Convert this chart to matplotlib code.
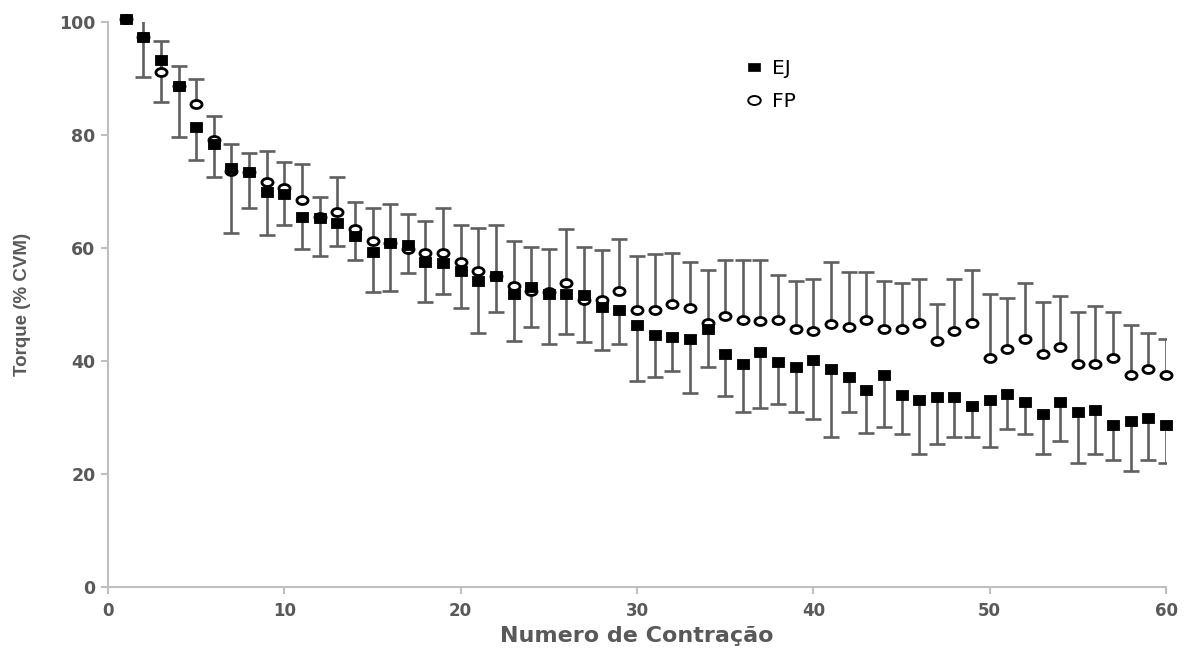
import numpy as np
import matplotlib
matplotlib.use("Agg")
import matplotlib.pyplot as plt
from matplotlib.path import Path
from matplotlib.transforms import Affine2D
from matplotlib.lines import Line2D

# ---------------- data ----------------
contraction = list(range(1, 61))

ej_mean = [100.6, 97.4, 93.3, 88.6, 81.4, 78.4, 74.2, 73.4, 69.9, 69.6,
           65.4, 65.3, 64.5, 62.1, 59.3, 60.8, 60.5, 57.6, 57.3, 55.9,
           54.2, 55.0, 51.9, 53.1, 51.9, 51.9, 51.6, 49.5, 49.0, 46.3,
           44.6, 44.3, 43.9, 45.7, 41.2, 39.5, 41.6, 39.9, 38.9, 40.2,
           38.5, 37.2, 34.8, 37.5, 34.0, 33.1, 33.7, 33.7, 32.0, 33.1,
           34.1, 32.7, 30.7, 32.7, 31.0, 31.3, 28.6, 29.3, 30.0, 28.6]
ej_sd = [0.0, 7.1, 7.5, 8.9, 5.8, 5.9, 11.5, 6.3, 7.6, 5.5,
         5.5, 6.7, 4.1, 4.2, 7.1, 8.4, 5.0, 7.2, 5.5, 6.5,
         9.2, 6.3, 8.3, 7.1, 8.9, 7.2, 8.3, 7.6, 6.0, 9.8,
         7.4, 6.1, 9.5, 6.8, 7.4, 8.5, 9.9, 7.5, 7.9, 10.5,
         11.9, 6.2, 7.5, 9.2, 7.0, 9.6, 8.4, 7.1, 5.4, 8.3,
         6.2, 5.7, 7.2, 6.8, 9.1, 7.8, 6.1, 8.8, 7.5, 6.7]

fp_mean = [100.6, 97.4, 91.2, 88.6, 85.4, 79.1, 73.6, 73.4, 71.6, 70.6,
           68.5, 65.5, 66.4, 63.4, 61.3, 60.9, 59.9, 59.2, 59.2, 57.5,
           55.9, 55.1, 53.2, 52.4, 52.2, 53.8, 50.8, 50.8, 52.4, 49.0,
           49.0, 50.1, 49.4, 46.8, 48.0, 47.3, 47.0, 47.3, 45.6, 45.3,
           46.6, 46.0, 47.3, 45.6, 45.6, 46.7, 43.6, 45.3, 46.7, 40.5,
           42.2, 43.9, 41.2, 42.5, 39.5, 39.5, 40.5, 37.5, 38.5, 37.5]
fp_sd = [0.0, 5.0, 5.5, 3.7, 4.5, 4.3, 4.8, 3.5, 5.6, 4.6,
         6.4, 3.6, 6.1, 4.7, 5.8, 6.9, 6.1, 5.5, 7.9, 6.5,
         7.7, 8.9, 8.1, 7.8, 7.7, 9.5, 9.4, 8.8, 9.2, 9.6,
         9.9, 9.1, 8.1, 9.3, 9.9, 10.6, 10.9, 7.9, 8.5, 9.2,
         10.9, 9.8, 8.5, 8.5, 8.2, 7.8, 6.5, 9.2, 9.4, 11.3,
         8.9, 9.9, 9.2, 9.0, 9.2, 10.2, 8.2, 8.8, 6.5, 6.4]

series_labels = ["EJ", "FP"]
x_ticks = [0, 10, 20, 30, 40, 50, 60]
y_ticks = [0, 20, 40, 60, 80, 100]
x_label = "Numero de Contração"
y_label = "Torque (% CVM)"

# ---------------- style ----------------
W, H, DPI = 1193, 653, 100
AX_L, AX_R, AX_T, AX_B = 108, 1166, 22, 587
GRAY_TXT = "#595959"
GRAY_BAR = "#5f5f5f"
GRAY_AX = "#bfbfbf"

# horizontally stretched markers (reference image is stretched)
rect = Path([(-0.5, -0.37), (0.5, -0.37), (0.5, 0.37), (-0.5, 0.37), (-0.5, -0.37)],
            [Path.MOVETO, Path.LINETO, Path.LINETO, Path.LINETO, Path.CLOSEPOLY])
ell = Path.unit_circle().transformed(Affine2D().scale(1.0, 0.72))

fig = plt.figure(figsize=(W / DPI, H / DPI), dpi=DPI)
ax = fig.add_axes([AX_L / W, 1 - AX_B / H, (AX_R - AX_L) / W, (AX_B - AX_T) / H])

x = np.array(contraction, dtype=float)
ej = np.array(ej_mean)
ejs = np.array(ej_sd)
fp = np.array(fp_mean)
fps = np.array(fp_sd)

bar_lw = 1.9
cap_ms = 11

# EJ: lower error bars ; FP: upper error bars
ax.vlines(x, ej - ejs, ej, color=GRAY_BAR, lw=bar_lw, zorder=2)
ax.plot(x[ejs > 0], (ej - ejs)[ejs > 0], ls="none", marker="_", ms=cap_ms,
        mew=bar_lw, color=GRAY_BAR, zorder=2)
ax.vlines(x, fp, fp + fps, color=GRAY_BAR, lw=bar_lw, zorder=2)
ax.plot(x[fps > 0], (fp + fps)[fps > 0], ls="none", marker="_", ms=cap_ms,
        mew=bar_lw, color=GRAY_BAR, zorder=2)

ax.plot(x, fp, ls="none", marker=ell, ms=8.0, mfc="white", mec="black",
        mew=2.0, zorder=3, clip_on=False)
ax.plot(x, ej, ls="none", marker=rect, ms=9.3, mfc="black", mec="black",
        mew=0.6, zorder=4, clip_on=False)

ax.set_xlim(0, 60)
ax.set_ylim(0, 100)
ax.set_xticks(x_ticks)
ax.set_yticks(y_ticks)

for s in ["top", "right"]:
    ax.spines[s].set_visible(False)
for s in ["left", "bottom"]:
    ax.spines[s].set_color(GRAY_AX)
    ax.spines[s].set_linewidth(1.5)

ax.tick_params(axis="both", direction="out", length=5, width=1.5, color=GRAY_AX)
ax.tick_params(axis="y", pad=4)
ax.tick_params(axis="x", pad=6)
for lab in ax.get_yticklabels():
    lab.set_fontfamily("DejaVu Sans")
    lab.set_fontweight("bold")
    lab.set_fontsize(12.5)
    lab.set_color(GRAY_TXT)
for lab in ax.get_xticklabels():
    lab.set_fontfamily("DejaVu Sans")
    lab.set_fontweight("bold")
    lab.set_fontsize(12)
    lab.set_color(GRAY_TXT)

ax.set_xlabel(x_label, fontfamily="DejaVu Sans", fontweight="bold",
              fontsize=16, color=GRAY_TXT)
ax.xaxis.set_label_coords(0.5, -0.0875)
ax.xaxis.label.set_va("center")

ax.set_ylabel(y_label, fontfamily="Liberation Sans",
              fontweight="bold", fontsize=13.5, color=GRAY_TXT)
ax.yaxis.set_label_coords(-0.081, 0.5)
ax.yaxis.label.set_va("center")
ax.yaxis.label.set_ha("center")

handles = [
    Line2D([], [], ls="none", marker=rect, ms=8.5, mfc="black", mec="black", mew=0.5),
    Line2D([], [], ls="none", marker=ell, ms=9, mfc="white", mec="black", mew=1.4),
]
ax.legend(handles, series_labels, loc="upper left", bbox_to_anchor=(0.582, 0.967),
          frameon=False, handletextpad=0.3, labelspacing=0.7, handlelength=1.2,
          prop={"family": "DejaVu Sans", "size": 14.5})

fig.savefig("out.png", dpi=DPI)
